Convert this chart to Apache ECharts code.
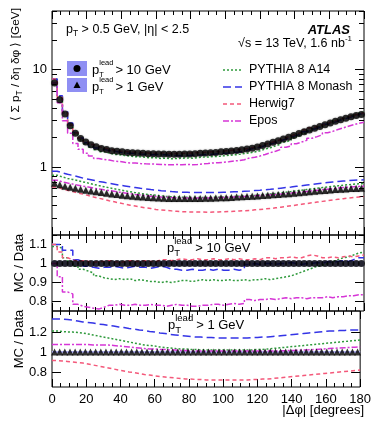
<!DOCTYPE html>
<html>
<head>
<meta charset="UTF-8">
<title>UE transverse momentum density vs delta phi</title>
<script src="https://cdn.jsdelivr.net/npm/echarts@6/dist/echarts.min.js"></script>
<style>
html, body { margin: 0; padding: 0; background: #fff; }
#chart { width: 374px; height: 432px; }
</style>
</head>
<body>
<div id="chart"></div>
<script>
// 60 bins of 3 degrees in |dphi|, 0..180
var binWidth = 3;

// data, <sum pT / deta dphi> [GeV]
var data10 = [7.3, 4.9, 3.5, 2.65, 2.22, 1.96, 1.80, 1.69, 1.61, 1.55,
              1.51, 1.47, 1.45, 1.43, 1.41, 1.40, 1.39, 1.38, 1.37, 1.37,
              1.36, 1.36, 1.35, 1.35, 1.35, 1.36, 1.36, 1.37, 1.38, 1.39,
              1.40, 1.41, 1.43, 1.44, 1.46, 1.48, 1.50, 1.53, 1.56, 1.60,
              1.66, 1.72, 1.79, 1.86, 1.94, 2.02, 2.11, 2.20, 2.30, 2.40,
              2.50, 2.61, 2.72, 2.83, 2.94, 3.05, 3.16, 3.27, 3.37, 3.45];
var data1 = [0.68, 0.655, 0.635, 0.62, 0.605, 0.59, 0.578, 0.566, 0.555, 0.545,
             0.536, 0.528, 0.52, 0.513, 0.506, 0.50, 0.495, 0.49, 0.486, 0.482,
             0.479, 0.477, 0.475, 0.474, 0.473, 0.473, 0.473, 0.474, 0.475, 0.476,
             0.478, 0.48, 0.482, 0.484, 0.487, 0.49, 0.493, 0.496, 0.50, 0.504,
             0.508, 0.512, 0.517, 0.522, 0.527, 0.532, 0.538, 0.544, 0.55, 0.556,
             0.562, 0.568, 0.574, 0.58, 0.585, 0.59, 0.595, 0.599, 0.602, 0.605];

// MC / data, pT lead > 10 GeV
var a14Ratio10 = [1.09, 1.08, 1.03, 1.01, 0.985, 0.97, 0.96, 0.95, 0.935, 0.925,
                  0.92, 0.915, 0.92, 0.915, 0.92, 0.91, 0.915, 0.91, 0.905, 0.905,
                  0.90, 0.905, 0.90, 0.905, 0.91, 0.91, 0.905, 0.91, 0.915, 0.91,
                  0.915, 0.91, 0.91, 0.915, 0.91, 0.91, 0.915, 0.91, 0.915, 0.915,
                  0.92, 0.915, 0.92, 0.925, 0.93, 0.935, 0.945, 0.955, 0.965, 0.975,
                  0.985, 0.99, 1.0, 1.01, 1.02, 1.03, 1.035, 1.045, 1.055, 1.06];
var monashRatio10 = [1.10, 1.10, 1.07, 1.07, 1.02, 1.01, 0.985, 0.98, 0.975, 0.98,
                     0.98, 0.985, 0.98, 0.975, 0.98, 0.985, 0.98, 0.98, 0.975, 0.98,
                     0.985, 0.98, 0.97, 0.97, 0.965, 0.965, 0.97, 0.965, 0.965, 0.97,
                     0.965, 0.97, 0.965, 0.965, 0.97, 0.965, 0.97, 0.995, 1.0, 0.995,
                     1.0, 1.0, 0.995, 1.0, 1.0, 1.005, 1.0, 0.995, 1.0, 1.0,
                     1.005, 1.0, 1.01, 1.005, 1.01, 1.015, 1.01, 1.02, 1.03, 1.03];
var herwigRatio10 = [1.10, 1.06, 1.03, 1.02, 1.01, 1.015, 1.01, 1.005, 1.01, 1.01,
                     1.015, 1.01, 1.005, 1.01, 1.015, 1.01, 1.01, 1.015, 1.01, 1.01,
                     1.02, 1.02, 1.015, 1.02, 1.025, 1.02, 1.02, 1.025, 1.02, 1.02,
                     1.025, 1.02, 1.02, 1.025, 1.02, 1.025, 1.02, 1.02, 1.025, 1.02,
                     1.03, 1.03, 1.025, 1.03, 1.03, 1.035, 1.03, 1.03, 1.04, 1.045,
                     1.04, 1.03, 1.03, 1.035, 1.03, 1.035, 1.04, 1.035, 1.04, 1.045];
var eposRatio10 = [1.00, 0.93, 0.85, 0.84, 0.785, 0.775, 0.77, 0.765, 0.76, 0.77,
                   0.78, 0.78, 0.785, 0.78, 0.78, 0.785, 0.78, 0.78, 0.785, 0.78,
                   0.78, 0.775, 0.78, 0.785, 0.78, 0.78, 0.775, 0.775, 0.78, 0.78,
                   0.785, 0.785, 0.78, 0.785, 0.79, 0.785, 0.79, 0.81, 0.805, 0.81,
                   0.81, 0.815, 0.81, 0.815, 0.82, 0.815, 0.82, 0.82, 0.815, 0.82,
                   0.82, 0.82, 0.825, 0.82, 0.825, 0.825, 0.83, 0.83, 0.835, 0.835];

// MC / data, pT lead > 1 GeV
var a14Ratio1 = [1.21, 1.205, 1.20, 1.20, 1.195, 1.19, 1.18, 1.17, 1.16, 1.15,
                 1.14, 1.13, 1.12, 1.11, 1.10, 1.09, 1.08, 1.07, 1.065, 1.06,
                 1.05, 1.045, 1.04, 1.035, 1.03, 1.03, 1.025, 1.025, 1.02, 1.02,
                 1.02, 1.02, 1.02, 1.02, 1.02, 1.02, 1.02, 1.02, 1.02, 1.025,
                 1.025, 1.03, 1.035, 1.04, 1.045, 1.05, 1.055, 1.06, 1.065, 1.07,
                 1.075, 1.08, 1.085, 1.09, 1.095, 1.10, 1.105, 1.11, 1.115, 1.12];
var monashRatio1 = [1.33, 1.33, 1.325, 1.32, 1.31, 1.30, 1.295, 1.29, 1.28, 1.275,
                    1.265, 1.26, 1.25, 1.245, 1.235, 1.23, 1.22, 1.215, 1.205, 1.20,
                    1.19, 1.185, 1.175, 1.17, 1.165, 1.16, 1.155, 1.15, 1.15, 1.145,
                    1.145, 1.14, 1.14, 1.14, 1.14, 1.14, 1.14, 1.14, 1.145, 1.145,
                    1.15, 1.15, 1.155, 1.16, 1.165, 1.17, 1.175, 1.18, 1.185, 1.19,
                    1.195, 1.20, 1.205, 1.21, 1.21, 1.215, 1.215, 1.22, 1.22, 1.22];
var herwigRatio1 = [0.915, 0.91, 0.905, 0.90, 0.895, 0.89, 0.88, 0.87, 0.86, 0.85,
                    0.84, 0.83, 0.82, 0.81, 0.80, 0.795, 0.785, 0.775, 0.77, 0.76,
                    0.755, 0.75, 0.745, 0.74, 0.735, 0.73, 0.73, 0.725, 0.725, 0.72,
                    0.72, 0.72, 0.72, 0.72, 0.72, 0.72, 0.72, 0.72, 0.725, 0.725,
                    0.73, 0.73, 0.735, 0.74, 0.745, 0.75, 0.755, 0.76, 0.765, 0.77,
                    0.775, 0.78, 0.785, 0.79, 0.795, 0.80, 0.805, 0.81, 0.815, 0.82];
var eposRatio1 = [1.075, 1.075, 1.075, 1.075, 1.075, 1.075, 1.075, 1.07, 1.07, 1.07,
                  1.07, 1.065, 1.06, 1.055, 1.05, 1.045, 1.04, 1.035, 1.03, 1.03,
                  1.025, 1.025, 1.02, 1.02, 1.015, 1.015, 1.01, 1.01, 1.01, 1.01,
                  1.01, 1.01, 1.01, 1.01, 1.01, 1.01, 1.01, 1.01, 1.01, 1.01,
                  1.01, 1.01, 1.01, 1.01, 1.012, 1.014, 1.016, 1.018, 1.02, 1.022,
                  1.025, 1.028, 1.031, 1.034, 1.037, 1.04, 1.043, 1.046, 1.048, 1.05];

// axis ticks
var mainMajorTicks = [1, 10];
var mainMinorTicks = [0.2, 0.3, 0.4, 0.5, 0.6, 0.7, 0.8, 0.9, 2, 3, 4, 5, 6, 7, 8, 9, 20, 30, 40];
var ratio10Ticks = [0.8, 0.9, 1, 1.1];
var ratio1Ticks = [0.8, 1, 1.2];
// half width of the data band in the ratio pads
var band10 = 0.015;
var band1 = 0.01;

var FONT = '"Liberation Sans", Arial, sans-serif';

var models = [
    {name: 'PYTHIA 8 A14', color: '#2f9a3c', dash: [2, 2], r10: a14Ratio10, r1: a14Ratio1},
    {name: 'PYTHIA 8 Monash', color: '#3434e6', dash: [8, 4], r10: monashRatio10, r1: monashRatio1},
    {name: 'Herwig7', color: '#f4587a', dash: [4, 3], r10: herwigRatio10, r1: herwigRatio1},
    {name: 'Epos', color: '#d636d6', dash: [6, 2, 2, 2], r10: eposRatio10, r1: eposRatio1}
];

function centres(vals) {
    return vals.map(function (v, i) { return [(i + 0.5) * binWidth, v]; });
}
function histo(vals) {
    var pts = vals.map(function (v, i) { return [i * binWidth, v]; });
    pts.push([vals.length * binWidth, vals[vals.length - 1]]);
    return pts;
}
function times(a, b) {
    return a.map(function (v, i) { return v * b[i]; });
}

function xAx(grid, pos, labels) {
    return {
        type: 'value', gridIndex: grid, position: pos, min: 0, max: 180, interval: 20,
        axisLine: {show: false, onZero: false},
        axisTick: {show: true, inside: true, length: 8, lineStyle: {color: '#000', width: 1}},
        minorTick: {show: true, splitNumber: 4, length: 4, lineStyle: {color: '#000', width: 1}},
        splitLine: {show: false},
        axisLabel: {show: labels, color: '#000', fontFamily: FONT, fontSize: 13, margin: 6}
    };
}
function yAx(grid, type, pos, min, max, ticks, len, labels) {
    var a = {
        type: type, gridIndex: grid, position: pos, min: min, max: max,
        axisLine: {show: false, onZero: false},
        axisTick: {show: true, inside: true, length: len, customValues: ticks, lineStyle: {color: '#000', width: 1}},
        splitLine: {show: false},
        axisLabel: {show: labels, customValues: ticks, color: '#000', fontFamily: FONT, fontSize: 13, margin: 5}
    };
    if (type === 'log') a.logBase = 10;
    return a;
}

var series = [];
models.forEach(function (m) {
    var ls = {color: m.color, width: 1.5, type: m.dash};
    // main pad
    series.push({type: 'line', xAxisIndex: 0, yAxisIndex: 0, step: 'end', symbol: 'none', data: histo(times(data10, m.r10)), lineStyle: ls, silent: true, z: 2});
    series.push({type: 'line', xAxisIndex: 0, yAxisIndex: 0, step: 'end', symbol: 'none', data: histo(times(data1, m.r1)), lineStyle: ls, silent: true, z: 2});
    // ratio pads
    series.push({type: 'line', xAxisIndex: 2, yAxisIndex: 4, step: 'end', symbol: 'none', data: histo(m.r10), lineStyle: ls, silent: true, z: 2});
    series.push({type: 'line', xAxisIndex: 4, yAxisIndex: 6, step: 'end', symbol: 'none', data: histo(m.r1), lineStyle: ls, silent: true, z: 2});
});
var dotStyle = {color: '#000', shadowColor: 'rgba(0,0,0,0.3)', shadowBlur: 2};
series.push({type: 'scatter', xAxisIndex: 0, yAxisIndex: 0, data: centres(data10), symbol: 'circle', symbolSize: 7, itemStyle: dotStyle, z: 5});
series.push({type: 'scatter', xAxisIndex: 0, yAxisIndex: 0, data: centres(data1), symbol: 'triangle', symbolSize: 7, itemStyle: dotStyle, z: 5});
series.push({type: 'scatter', xAxisIndex: 2, yAxisIndex: 4, symbol: 'circle', symbolSize: 7, itemStyle: {color: '#000'}, z: 5,
    data: centres(data10.map(function (v, i) { return v / data10[i]; })),
    markArea: {silent: true, itemStyle: {color: '#b3b3f5'}, data: [[{yAxis: 1 - band10}, {yAxis: 1 + band10}]]}});
series.push({type: 'scatter', xAxisIndex: 4, yAxisIndex: 6, symbol: 'triangle', symbolSize: 7, itemStyle: {color: '#000'}, z: 5,
    data: centres(data1.map(function (v, i) { return v / data1[i]; })),
    markArea: {silent: true, itemStyle: {color: '#b3b3f5'}, data: [[{yAxis: 1 - band1}, {yAxis: 1 + band1}]]}});

// text layout with measured widths, for sub/superscripts
var measureCtx = document.createElement('canvas').getContext('2d');
function fontOf(size, style) { return (style ? style + ' ' : '') + size + 'px ' + FONT; }
function textW(s, font) { measureCtx.font = font; return measureCtx.measureText(s).width; }
function txtEl(x, y, s, font, align) {
    return {type: 'text', x: x, y: y, z: 100,
        style: {text: s, font: font, fill: '#000', align: align || 'left', verticalAlign: 'middle'}};
}
// pieces: {t, size} normal text, or {sup, sub, size} stacked scripts
function run(x, y, pieces, opts) {
    opts = opts || {};
    var kids = [], cx = 0;
    pieces.forEach(function (p) {
        if (p.t !== undefined) {
            var f = fontOf(p.size, p.style);
            kids.push(txtEl(cx, p.dy || 0, p.t, f));
            cx += textW(p.t, f) + (p.gap || 0);
        } else {
            var fs = fontOf(p.size);
            var w = 0;
            if (p.sup) { kids.push(txtEl(cx, p.upDy || -6, p.sup, fs)); w = Math.max(w, textW(p.sup, fs)); }
            if (p.sub) { kids.push(txtEl(cx, p.downDy || 4, p.sub, fs)); w = Math.max(w, textW(p.sub, fs)); }
            cx += w + (p.gap || 0);
        }
    });
    if (opts.align === 'right') kids.forEach(function (k) { k.x -= cx; });
    if (opts.align === 'center') kids.forEach(function (k) { k.x -= cx / 2; });
    return {type: 'group', x: x, y: y, rotation: opts.rotation || 0, children: kids};
}
function pLead(x, y, tail, supSize, mainSize, gap) {
    return run(x, y, [
        {t: 'p', size: mainSize},
        {sup: 'lead', sub: 'T', size: supSize, upDy: -7, downDy: 5, gap: gap},
        {t: tail, size: mainSize}
    ]);
}

var graphics = [];
// y title of the main pad, fitted to its length in the reference
var titleLen = textW('⟨ Σ p / δη δφ ⟩ [GeV]', fontOf(13)) + textW('T', fontOf(9));
var titleSize = Math.max(10, Math.min(13, 13 * 112 / titleLen));
graphics.push(run(16, 8, [
    {t: '⟨ Σ p', size: titleSize},
    {sub: 'T', size: titleSize * 0.7, downDy: 4},
    {t: ' / δη δφ ⟩ [GeV]', size: titleSize}
], {align: 'right', rotation: Math.PI / 2}));
graphics.push(run(19, 263, [{t: 'MC / Data', size: 13}], {align: 'center', rotation: Math.PI / 2}));
graphics.push(run(19, 339, [{t: 'MC / Data', size: 13}], {align: 'center', rotation: Math.PI / 2}));
// x title
graphics.push(txtEl(364, 410, '|Δφ| [degrees]', fontOf(13), 'right'));
// kinematic cuts
graphics.push(run(66, 30, [
    {t: 'p', size: 12.5},
    {sub: 'T', size: 8.5, downDy: 4},
    {t: ' > 0.5 GeV, |η| < 2.5', size: 12.5}
]));
// ATLAS label
graphics.push(txtEl(350, 30, 'ATLAS', fontOf(13, 'italic bold'), 'right'));
graphics.push(run(352, 44, [
    {t: '√s = 13 TeV, 1.6 nb', size: 12.5},
    {sup: '-1', size: 8, upDy: -5}
], {align: 'right'}));
// data legend
graphics.push({type: 'rect', shape: {x: 67, y: 61, width: 20, height: 15}, style: {fill: '#8f8ff3'}, z: 99});
graphics.push({type: 'rect', shape: {x: 67, y: 78, width: 20, height: 14}, style: {fill: '#8f8ff3'}, z: 99});
graphics.push({type: 'circle', shape: {cx: 77, cy: 68.5, r: 3.5}, style: {fill: '#000'}, z: 100});
graphics.push({type: 'polygon', shape: {points: [[77, 81.5], [80.5, 88], [73.5, 88]]}, style: {fill: '#000'}, z: 100});
graphics.push(pLead(92, 70, '> 10 GeV', 7.5, 13, 2));
graphics.push(pLead(92, 87, '> 1 GeV', 7.5, 13, 2));
// MC legend
models.forEach(function (m, i) {
    var y = 70 + i * 17;
    graphics.push({type: 'line', shape: {x1: 223, y1: y, x2: 242, y2: y}, style: {stroke: m.color, lineWidth: 1.5, lineDash: m.dash}, z: 100});
    graphics.push(txtEl(249, y, m.name, fontOf(12.5)));
});
// ratio pad labels
graphics.push(pLead(167, 248, '> 10 GeV', 9.5, 13, 3));
graphics.push(pLead(168, 325, '> 1 GeV', 9.5, 13, 3));

var option = {
    animation: false,
    backgroundColor: '#fff',
    grid: [
        {left: 52, right: 10, top: 11, height: 224, show: true, borderColor: '#000', borderWidth: 1, backgroundColor: 'transparent'},
        {left: 52, right: 10, top: 235, height: 76, show: true, borderColor: '#000', borderWidth: 1, backgroundColor: 'transparent'},
        {left: 52, right: 10, top: 311, height: 76, show: true, borderColor: '#000', borderWidth: 1, backgroundColor: 'transparent'}
    ],
    xAxis: [
        xAx(0, 'bottom', false), xAx(0, 'top', false),
        xAx(1, 'bottom', false), xAx(1, 'top', false),
        xAx(2, 'bottom', true), xAx(2, 'top', false)
    ],
    yAxis: [
        yAx(0, 'log', 'left', 0.2, 40, mainMajorTicks, 9, true),
        yAx(0, 'log', 'left', 0.2, 40, mainMinorTicks, 5, false),
        yAx(0, 'log', 'right', 0.2, 40, mainMajorTicks, 9, false),
        yAx(0, 'log', 'right', 0.2, 40, mainMinorTicks, 5, false),
        yAx(1, 'value', 'left', 0.75, 1.15, ratio10Ticks, 9, true),
        yAx(1, 'value', 'right', 0.75, 1.15, ratio10Ticks, 9, false),
        yAx(2, 'value', 'left', 0.65, 1.41, ratio1Ticks, 9, true),
        yAx(2, 'value', 'right', 0.65, 1.41, ratio1Ticks, 9, false)
    ],
    series: series,
    graphic: graphics
};

var chart = echarts.init(document.getElementById('chart'));
chart.setOption(option);
</script>
</body>
</html>
